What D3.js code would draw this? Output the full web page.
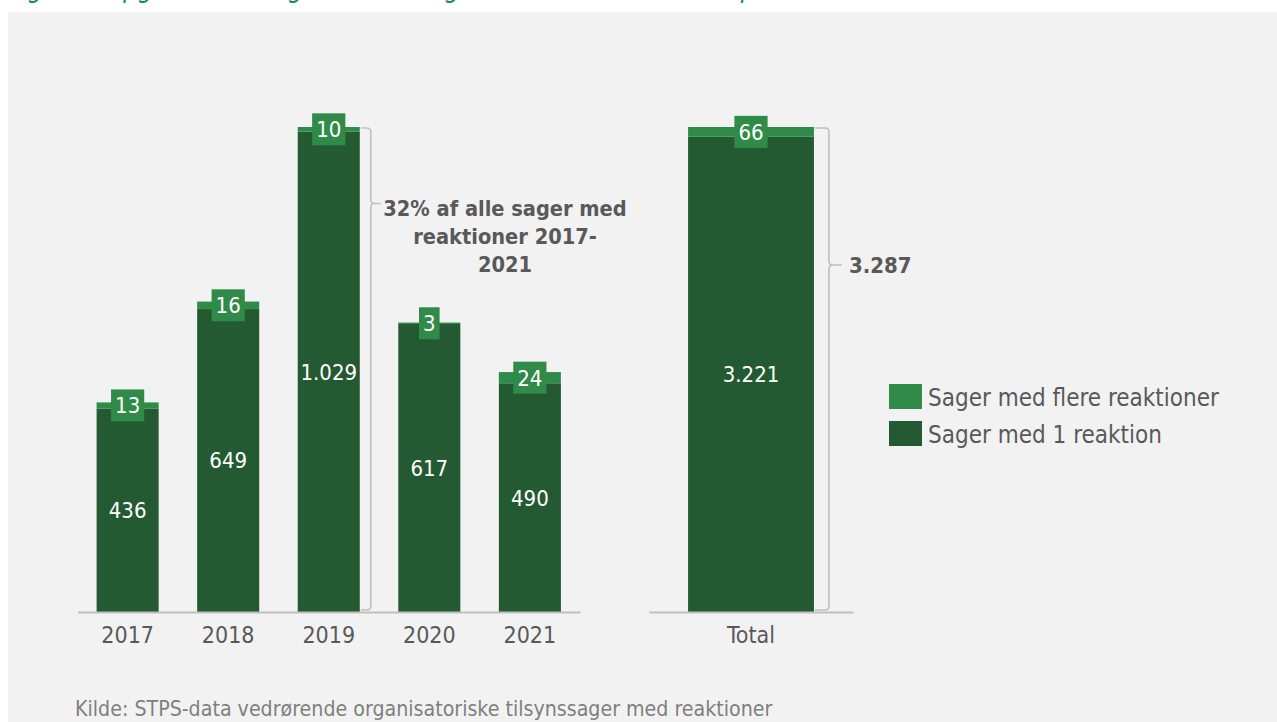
<!DOCTYPE html>
<html>
<head>
<meta charset="utf-8">
<script src="https://cdn.jsdelivr.net/npm/d3@7"></script>
<style>
  html, body { margin: 0; padding: 0; background: #ffffff; }
  svg { display: block; }
  text { font-family: "DejaVu Sans Condensed", "DejaVu Sans", sans-serif; }
</style>
</head>
<body>
<svg id="chart" width="1277" height="722"></svg>
<script>
// ---- data ----
const years = ["2017", "2018", "2019", "2020", "2021"];
const singleReaction = [436, 649, 1029, 617, 490];
const multipleReactions = [13, 16, 10, 3, 24];
const totalCategory = ["Total"];
const totalSingle = [3221];
const totalMultiple = [66];
const seriesNames = ["Sager med flere reaktioner", "Sager med 1 reaktion"];
const shareNote = ["32% af alle sager med", "reaktioner 2017-", "2021"];
const titleText = "Figur 3: Opgørelse af sager med én og flere reaktioner fordelt på år";
const sourceText = "Kilde: STPS-data vedrørende organisatoriske tilsynssager med reaktioner";

// ---- styling ----
const colDark = "#235a32";
const colLight = "#2f8b47";
const textGrey = "#595959";
const lineGrey = "#bfbfbf";
const baseY = 612;
const topY = 127;

const fmt = d3.formatLocale({ decimal: ",", thousands: ".", grouping: [3], currency: ["", " kr."] }).format(",d");

const svg = d3.select("#chart");

// panel background
svg.append("rect")
  .attr("x", 8).attr("y", 12)
  .attr("width", 1277 - 8).attr("height", 722 - 12)
  .attr("fill", "#f2f2f2");

// title (runs above the panel, mostly outside the frame)
svg.append("text")
  .attr("x", 8).attr("y", -3)
  .attr("fill", "#178a5a")
  .attr("font-size", 26)
  .attr("font-style", "italic")
  .text(titleText);

const makeRows = (cats, singles, multis) =>
  cats.map((c, i) => ({ cat: c, single: singles[i], multi: multis[i] }));

const stack = d3.stack().keys(["single", "multi"]);

function drawPanel(rows, xRange) {
  const g = svg.append("g");
  const x = d3.scaleBand()
    .domain(rows.map(d => d.cat))
    .range(xRange)
    .paddingInner(0.383)
    .paddingOuter(0.19);
  const y = d3.scaleLinear()
    .domain([0, d3.max(rows, d => d.single + d.multi)])
    .range([baseY, topY]);

  const layers = stack(rows);
  const colors = { single: colDark, multi: colLight };

  g.selectAll("g.layer")
    .data(layers)
    .join("g")
    .attr("class", "layer")
    .attr("fill", d => colors[d.key])
    .selectAll("rect")
    .data(d => d)
    .join("rect")
    .attr("x", d => x(d.data.cat))
    .attr("width", x.bandwidth())
    .attr("y", d => y(d[1]))
    .attr("height", d => y(d[0]) - y(d[1]));

  // axis
  const axis = g.append("g")
    .attr("transform", `translate(0,${baseY})`)
    .call(d3.axisBottom(x).tickSize(0).tickSizeOuter(0).tickPadding(15));
  axis.select(".domain").attr("stroke", lineGrey).attr("stroke-width", 2);
  axis.selectAll("text")
    .attr("font-size", 23)
    .attr("fill", textGrey)
    .style("font-family", "'DejaVu Sans Condensed', 'DejaVu Sans', sans-serif");

  // values inside the dark segment
  g.selectAll("text.inner")
    .data(rows)
    .join("text")
    .attr("class", "inner")
    .attr("x", d => x(d.cat) + x.bandwidth() / 2)
    .attr("y", d => (y(0) + y(d.single)) / 2)
    .attr("dy", "0.36em")
    .attr("text-anchor", "middle")
    .attr("fill", "#ffffff")
    .attr("font-size", 22)
    .text(d => fmt(d.single));

  // boxed values on the light top segment
  const tops = g.selectAll("g.top")
    .data(rows)
    .join("g")
    .attr("class", "top")
    .attr("transform", d =>
      `translate(${x(d.cat) + x.bandwidth() / 2},${(y(d.single) + y(d.single + d.multi)) / 2})`);
  tops.append("rect").attr("fill", colLight);
  tops.append("text")
    .attr("text-anchor", "middle")
    .attr("dy", "0.36em")
    .attr("fill", "#ffffff")
    .attr("font-size", 22)
    .text(d => fmt(d.multi));
  tops.each(function () {
    const t = d3.select(this).select("text");
    const w = t.node().getComputedTextLength() + 8;
    d3.select(this).select("rect")
      .attr("x", -w / 2).attr("y", -16)
      .attr("width", w).attr("height", 32);
  });

  return { x, y };
}

function brace(xBar, xLine, yTop, yBot, yNotch, xTip) {
  const r = 4;
  const p = d3.path();
  p.moveTo(xBar, yTop);
  p.lineTo(xLine - r, yTop);
  p.quadraticCurveTo(xLine, yTop, xLine, yTop + r);
  p.lineTo(xLine, yNotch - r);
  p.quadraticCurveTo(xLine, yNotch, xLine + r, yNotch);
  p.lineTo(xTip, yNotch);
  p.moveTo(xLine + r, yNotch);
  p.quadraticCurveTo(xLine, yNotch, xLine, yNotch + r);
  p.lineTo(xLine, yBot - r);
  p.quadraticCurveTo(xLine, yBot, xLine - r, yBot);
  p.lineTo(xBar, yBot);
  svg.append("path")
    .attr("d", p.toString())
    .attr("fill", "none")
    .attr("stroke", lineGrey)
    .attr("stroke-width", 1.6);
}

// ---- yearly panel ----
const yearRows = makeRows(years, singleReaction, multipleReactions);
const left = drawPanel(yearRows, [77.5, 580]);

// ---- total panel ----
const totalRows = makeRows(totalCategory, totalSingle, totalMultiple);
const right = drawPanel(totalRows, [649, 853]);

// bracket next to the tallest year with share note
const peak = yearRows[d3.maxIndex(yearRows, d => d.single + d.multi)];
const peakRight = left.x(peak.cat) + left.x.bandwidth();
brace(peakRight + 1, peakRight + 11, left.y(peak.single + peak.multi) + 1, baseY - 2, 203.5, peakRight + 21);

const note = svg.append("text")
  .attr("text-anchor", "middle")
  .attr("fill", textGrey)
  .attr("font-size", 21.6)
  .attr("font-weight", "bold");
shareNote.forEach((line, i) => {
  note.append("tspan").attr("x", 505).attr("y", 216 + i * 28).text(line);
});

// bracket next to the total bar with the overall sum
const tot = totalRows[0];
const totRight = right.x(tot.cat) + right.x.bandwidth();
brace(totRight + 1, totRight + 15, right.y(tot.single + tot.multi) + 1, baseY - 2, 265, totRight + 28);
svg.append("text")
  .attr("x", totRight + 35)
  .attr("y", 273)
  .attr("fill", textGrey)
  .attr("font-size", 22)
  .attr("font-weight", "bold")
  .text(fmt(tot.single + tot.multi));

// ---- legend ----
const legendColors = [colLight, colDark];
const legend = svg.append("g").attr("transform", "translate(889,384)");
seriesNames.forEach((name, i) => {
  legend.append("rect")
    .attr("x", 0).attr("y", i * 37)
    .attr("width", 33).attr("height", 25)
    .attr("fill", legendColors[i]);
  legend.append("text")
    .attr("x", 39).attr("y", i * 37 + 22)
    .attr("fill", textGrey)
    .attr("font-size", 24)
    .text(name);
});

// ---- source ----
svg.append("text")
  .attr("x", 75).attr("y", 716)
  .attr("fill", "#7f7f7f")
  .attr("font-size", 21.2)
  .text(sourceText);
</script>
</body>
</html>
